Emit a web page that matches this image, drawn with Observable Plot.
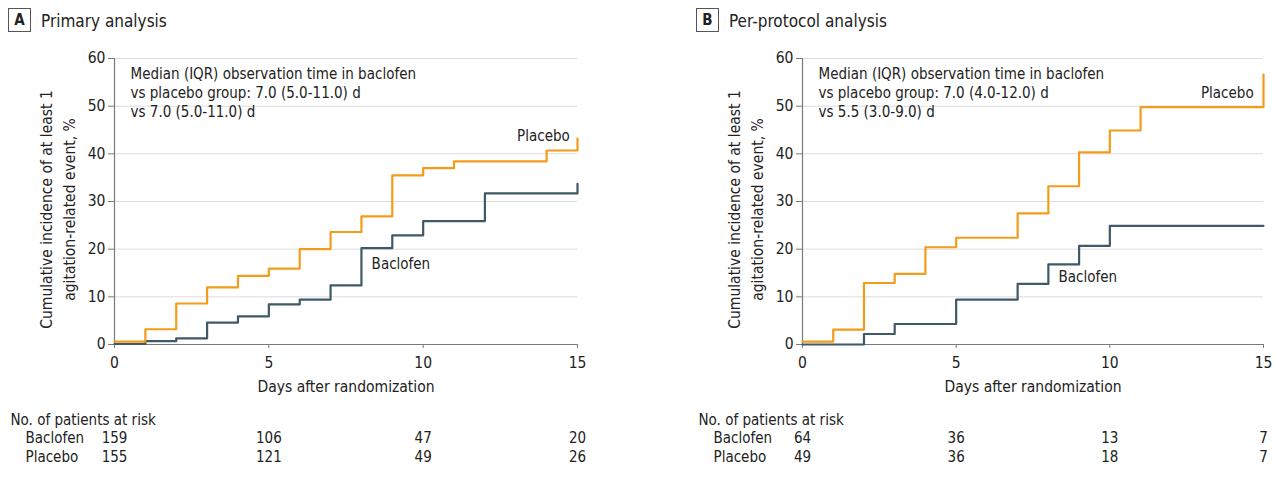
<!DOCTYPE html>
<html><head><meta charset="utf-8">
<script src="https://cdn.jsdelivr.net/npm/d3@7"></script>
<script src="https://cdn.jsdelivr.net/npm/@observablehq/plot@0.6"></script>
<style>
body{margin:0;background:#fff;font-family:"Liberation Sans Narrow","DejaVu Sans Condensed","Roboto Condensed","Open Sans",sans-serif;color:#222}
#wrap{display:flex;width:1274px;height:480px;overflow:hidden}
.panel{width:637px;position:relative}
.title{height:40px;position:relative}
.box{position:absolute;top:8px;width:21px;height:22px;border:1px solid #555;font-weight:bold;font-size:15px;line-height:22px;text-align:center}
.ttl{position:absolute;top:9px;font-size:17px;line-height:24px}
</style></head><body>
<div id="wrap"></div>
<script>
// ---- data ----
const ticksX = [0, 5, 10, 15];
const ticksY = [0, 10, 20, 30, 40, 50, 60];
const riskDays = [0, 5, 10, 15];

// Panel A: primary analysis
const aPlaceboDays = [0, 1, 2, 3, 4, 5, 6, 7, 8, 9, 10, 11, 14, 15, 15];
const aPlaceboPct  = [0.6, 3.2, 8.6, 12.0, 14.4, 15.9, 20.0, 23.6, 26.9, 35.5, 37.0, 38.4, 40.7, 40.7, 43.2];
const aBaclofenDays = [0, 1, 2, 3, 4, 5, 6, 7, 8, 9, 10, 12, 15, 15];
const aBaclofenPct  = [0.1, 0.7, 1.3, 4.6, 5.9, 8.4, 9.4, 12.4, 20.2, 22.9, 25.9, 31.7, 31.7, 33.7];
const aRiskBaclofen = [159, 106, 47, 20];
const aRiskPlacebo  = [155, 121, 49, 26];

// Panel B: per-protocol analysis
const bPlaceboDays = [0, 1, 2, 3, 4, 5, 7, 8, 9, 10, 11, 15, 15];
const bPlaceboPct  = [0.6, 3.1, 12.9, 14.8, 20.4, 22.4, 27.5, 33.2, 40.3, 44.9, 49.8, 49.8, 56.6];
const bBaclofenDays = [0, 2, 3, 5, 7, 8, 9, 10, 15];
const bBaclofenPct  = [0, 2.2, 4.3, 9.4, 12.7, 16.8, 20.7, 24.9, 24.9];
const bRiskBaclofen = [64, 36, 13, 7];
const bRiskPlacebo  = [49, 36, 18, 7];

const panels = [
  {letter: "A", title: "Primary analysis",
   note: "Median (IQR) observation time in baclofen\nvs placebo group: 7.0 (5.0-11.0) d\nvs 7.0 (5.0-11.0) d",
   pDays: aPlaceboDays, pPct: aPlaceboPct, bDays: aBaclofenDays, bPct: aBaclofenPct,
   rB: aRiskBaclofen, rP: aRiskPlacebo, ml: 114, mr: 60,
   pLab: {x: 14.75, y: 43.6}, bLab: {x: 8.33, y: 16.8}},
  {letter: "B", title: "Per-protocol analysis",
   note: "Median (IQR) observation time in baclofen\nvs placebo group: 7.0 (4.0-12.0) d\nvs 5.5 (3.0-9.0) d",
   pDays: bPlaceboDays, pPct: bPlaceboPct, bDays: bBaclofenDays, bPct: bBaclofenPct,
   rB: bRiskBaclofen, rP: bRiskPlacebo, ml: 165, mr: 11,
   pLab: {x: 14.68, y: 52.7}, bLab: {x: 8.33, y: 14.1}}
];

const ORANGE = "#f39c1a", SLATE = "#3f5a66", AXIS = "#7a7a7a", TXT = "#222";
const wrap = document.getElementById("wrap");

for (const p of panels) {
  const div = document.createElement("div");
  div.className = "panel";
  const t = document.createElement("div");
  t.className = "title";
  t.innerHTML = `<div class="box" style="left:${p.ml - 106}px">${p.letter}</div><div class="ttl" style="left:${p.ml - 73}px">${p.title}</div>`;
  div.appendChild(t);

  const placebo = p.pDays.map((d, i) => ({day: d, pct: p.pPct[i]}));
  const baclofen = p.bDays.map((d, i) => ({day: d, pct: p.bPct[i]}));
  const risk = riskDays.map((d, i) => ({day: d, b: p.rB[i], p: p.rP[i]}));

  const chart = Plot.plot({
    width: 637, height: 440,
    marginLeft: p.ml, marginRight: p.mr, marginTop: 18, marginBottom: 136,
    style: {fontFamily: "'Liberation Sans Narrow','DejaVu Sans Condensed','Roboto Condensed','Open Sans',sans-serif", fontSize: "15px", color: TXT, background: "#fff"},
    x: {domain: [0, 15]},
    y: {domain: [0, 60]},
    marks: [
      Plot.gridY(ticksY.slice(1), {stroke: "#dcdcdc", strokeOpacity: 1}),
      Plot.axisY(ticksY, {tickSize: 6, tickPadding: 3, label: null, stroke: AXIS, fill: TXT, fontSize: 15.5}),
      Plot.axisX(ticksX, {tickSize: 4, tickPadding: 8, label: null, stroke: AXIS, fill: TXT, fontSize: 15.5}),
      Plot.ruleX([0], {stroke: AXIS, strokeWidth: 1.2}),
      Plot.ruleY([0], {stroke: AXIS, strokeWidth: 1.2}),
      Plot.line(baclofen, {x: "day", y: "pct", curve: "step-after", stroke: SLATE, strokeWidth: 2.2}),
      Plot.line(placebo, {x: "day", y: "pct", curve: "step-after", stroke: ORANGE, strokeWidth: 2.2}),
      Plot.text([p.note], {frameAnchor: "top-left", dx: 16, dy: 7, text: d => d, textAnchor: "start", lineHeight: 1.27, fontSize: 15, fill: TXT}),
      Plot.text(["Placebo"], {x: p.pLab.x, y: p.pLab.y, text: d => d, textAnchor: "end", fontSize: 15, fill: TXT}),
      Plot.text(["Baclofen"], {x: p.bLab.x, y: p.bLab.y, text: d => d, textAnchor: "start", fontSize: 15, fill: TXT}),
      // axis titles
      Plot.text(["Cumulative incidence of at least 1"], {frameAnchor: "left", dx: -67, dy: 8, rotate: -90, text: d => d, textAnchor: "middle", fontSize: 15.5, fill: TXT}),
      Plot.text(["agitation-related event, %"], {frameAnchor: "left", dx: -44, dy: 8, rotate: -90, text: d => d, textAnchor: "middle", fontSize: 15.5, fill: TXT}),
      Plot.text(["Days after randomization"], {frameAnchor: "bottom", dy: 47, text: d => d, textAnchor: "middle", fontSize: 15.5, fill: TXT}),
      // risk table
      Plot.text(["No. of patients at risk"], {frameAnchor: "bottom-left", dx: -104, dy: 80, text: d => d, textAnchor: "start", fontSize: 15, fill: TXT}),
      Plot.text(["Baclofen"], {frameAnchor: "bottom-left", dx: -89, dy: 98, text: d => d, textAnchor: "start", fontSize: 15, fill: TXT}),
      Plot.text(["Placebo"], {frameAnchor: "bottom-left", dx: -89, dy: 117, text: d => d, textAnchor: "start", fontSize: 15, fill: TXT}),
      Plot.text(risk, {x: "day", frameAnchor: "bottom", dy: 98, text: "b", textAnchor: "middle", fontSize: 15, fill: TXT}),
      Plot.text(risk, {x: "day", frameAnchor: "bottom", dy: 117, text: "p", textAnchor: "middle", fontSize: 15, fill: TXT})
    ]
  });
  div.appendChild(chart);
  wrap.appendChild(div);
}
</script>
</body></html>
